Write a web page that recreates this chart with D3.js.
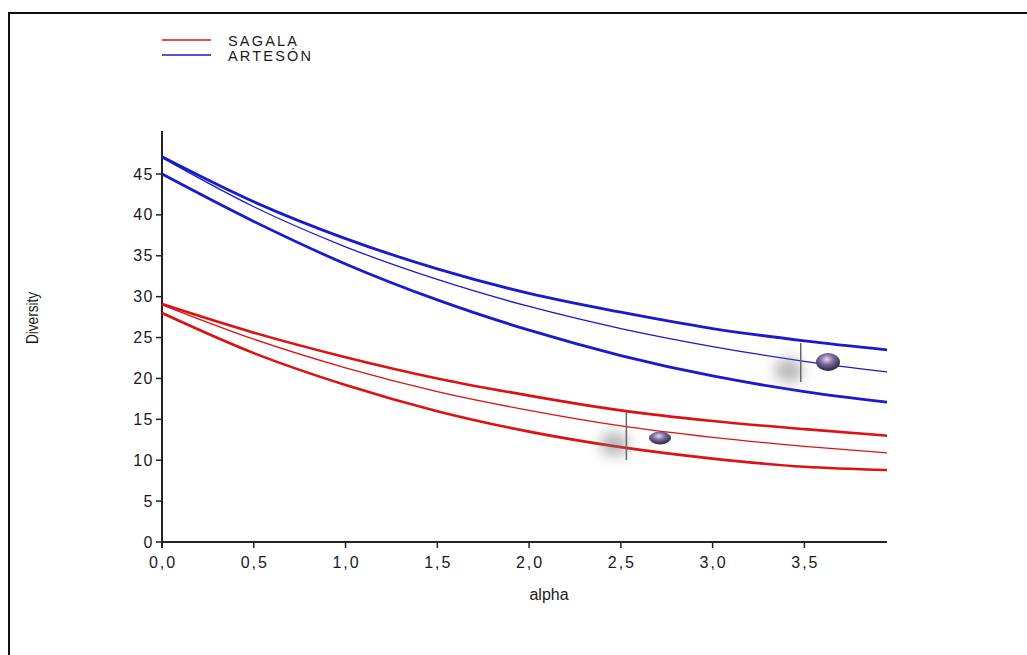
<!DOCTYPE html>
<html>
<head>
<meta charset="utf-8">
<script src="https://cdn.jsdelivr.net/npm/d3@7"></script>
<style>
  body { margin: 0; background: #fff; }
  text { font-family: "Liberation Sans", Arial, sans-serif; fill: #1a1a1a; }
</style>
</head>
<body>
<script>
const alphas = [0, 0.5, 1.0, 1.5, 2.0, 2.5, 3.0, 3.5, 3.95];

// SAGALA (red): upper band, estimate, lower band
const sagalaUpper = [29.1, 25.6, 22.6, 20.0, 17.9, 16.1, 14.8, 13.8, 13.0];
const sagalaMid   = [29.0, 24.8, 21.3, 18.4, 16.1, 14.2, 12.8, 11.7, 10.9];
const sagalaLower = [28.0, 23.1, 19.2, 16.0, 13.5, 11.6, 10.2, 9.2, 8.8];

// ARTESÓN (blue)
const artesonUpper = [47.1, 41.6, 37.1, 33.4, 30.4, 28.1, 26.1, 24.6, 23.5];
const artesonMid   = [47.0, 41.0, 36.1, 32.1, 28.8, 26.1, 23.9, 22.1, 20.8];
const artesonLower = [45.0, 39.2, 34.0, 29.6, 25.9, 22.8, 20.3, 18.4, 17.1];

const xTicks = [0, 0.5, 1.0, 1.5, 2.0, 2.5, 3.0, 3.5];
const yTicks = [0, 5, 10, 15, 20, 25, 30, 35, 40, 45];
const seriesNames = ["SAGALA", "ARTESÓN"];
const colors = ["#dd1111", "#1a1acc"];

const width = 1027, height = 655;
const svg = d3.select('body').append('svg').attr('width', width).attr('height', height);

// outer frame
svg.append('path')
  .attr('d', `M9,${height + 5}V13H${width + 5}`)
  .attr('fill', 'none').attr('stroke', '#111').attr('stroke-width', 2);

const x = d3.scaleLinear().domain([0, 3.95]).range([162, 887]);
const y = d3.scaleLinear().domain([0, 45]).range([542, 174]);

// defs for the little 3D markers
const defs = svg.append('defs');
const grad = defs.append('radialGradient').attr('id', 'ball').attr('cx', '45%').attr('cy', '35%').attr('r', '65%');
grad.append('stop').attr('offset', '0%').attr('stop-color', '#e8d8ee');
grad.append('stop').attr('offset', '45%').attr('stop-color', '#7a6a9a');
grad.append('stop').attr('offset', '100%').attr('stop-color', '#2a2040');
defs.append('filter').attr('id', 'blur').attr('x', '-100%').attr('y', '-100%').attr('width', '300%').attr('height', '300%')
  .append('feGaussianBlur').attr('stdDeviation', 7);

// axes
const axisG = svg.append('g');
axisG.append('line').attr('x1', 162).attr('x2', 162).attr('y1', 131).attr('y2', 548)
  .attr('stroke', '#222').attr('stroke-width', 2);
axisG.append('line').attr('x1', 162).attr('x2', 887).attr('y1', 542).attr('y2', 542)
  .attr('stroke', '#222').attr('stroke-width', 2);

axisG.selectAll('.yt').data(yTicks).enter().append('line')
  .attr('x1', 156).attr('x2', 162).attr('y1', d => y(d)).attr('y2', d => y(d))
  .attr('stroke', '#222').attr('stroke-width', 1.5);
axisG.selectAll('.yl').data(yTicks).enter().append('text')
  .attr('x', 154).attr('y', d => y(d)).attr('dy', '0.35em')
  .attr('text-anchor', 'end').attr('font-size', 16).attr('letter-spacing', 1.5)
  .text(d => d);

axisG.selectAll('.xt').data(xTicks).enter().append('line')
  .attr('x1', d => x(d)).attr('x2', d => x(d)).attr('y1', 542).attr('y2', 548)
  .attr('stroke', '#222').attr('stroke-width', 1.5);
axisG.selectAll('.xl').data(xTicks).enter().append('text')
  .attr('x', d => x(d) + 1).attr('y', 568)
  .attr('text-anchor', 'middle').attr('font-size', 16).attr('letter-spacing', 2)
  .text(d => d3.format('.1f')(d).replace('.', ','));

svg.append('text').attr('x', 549).attr('y', 600).attr('text-anchor', 'middle')
  .attr('font-size', 16).text('alpha');
svg.append('text').attr('transform', 'translate(38,318) rotate(-90) scale(0.85,1)')
  .attr('text-anchor', 'middle').attr('font-size', 16).text('Diversity');

// curves
const line = d3.line().x((d, i) => x(alphas[i])).y(d => y(d)).curve(d3.curveMonotoneX);
const curves = [
  { v: sagalaUpper, c: 0, w: 2.6 }, { v: sagalaMid, c: 0, w: 1.3 }, { v: sagalaLower, c: 0, w: 2.6 },
  { v: artesonUpper, c: 1, w: 2.8 }, { v: artesonMid, c: 1, w: 1.3 }, { v: artesonLower, c: 1, w: 2.8 }
];
svg.append('g').selectAll('path').data(curves).enter().append('path')
  .attr('d', d => line(d.v))
  .attr('fill', 'none')
  .attr('stroke', d => colors[d.c])
  .attr('stroke-width', d => d.w);

// decorative cursor markers
function marker(a, yTop, yBot, bx, by, rx, ry) {
  const g = svg.append('g');
  g.append('ellipse').attr('cx', x(a) - 12).attr('cy', (yTop + yBot) / 2 + 8).attr('rx', 14).attr('ry', 12)
    .attr('fill', '#777').attr('opacity', 0.55).attr('filter', 'url(#blur)');
  g.append('line').attr('x1', x(a)).attr('x2', x(a)).attr('y1', yTop).attr('y2', yBot)
    .attr('stroke', '#666').attr('stroke-width', 1.5);
  g.append('ellipse').attr('cx', bx).attr('cy', by).attr('rx', rx).attr('ry', ry).attr('fill', 'url(#ball)');
}
marker(2.53, 412, 460, 660, 438, 11, 6.5);
marker(3.48, 343, 382, 828, 362, 12, 9);

// legend
const leg = svg.append('g');
seriesNames.forEach((n, i) => {
  const ly = 40 + i * 15;
  leg.append('line').attr('x1', 162).attr('x2', 211).attr('y1', ly).attr('y2', ly)
    .attr('stroke', colors[i]).attr('stroke-width', 1.3);
  leg.append('text').attr('x', 228).attr('y', ly).attr('dy', '0.38em')
    .attr('font-size', 14.5).attr('letter-spacing', 2.2).text(n);
});
</script>
</body>
</html>
